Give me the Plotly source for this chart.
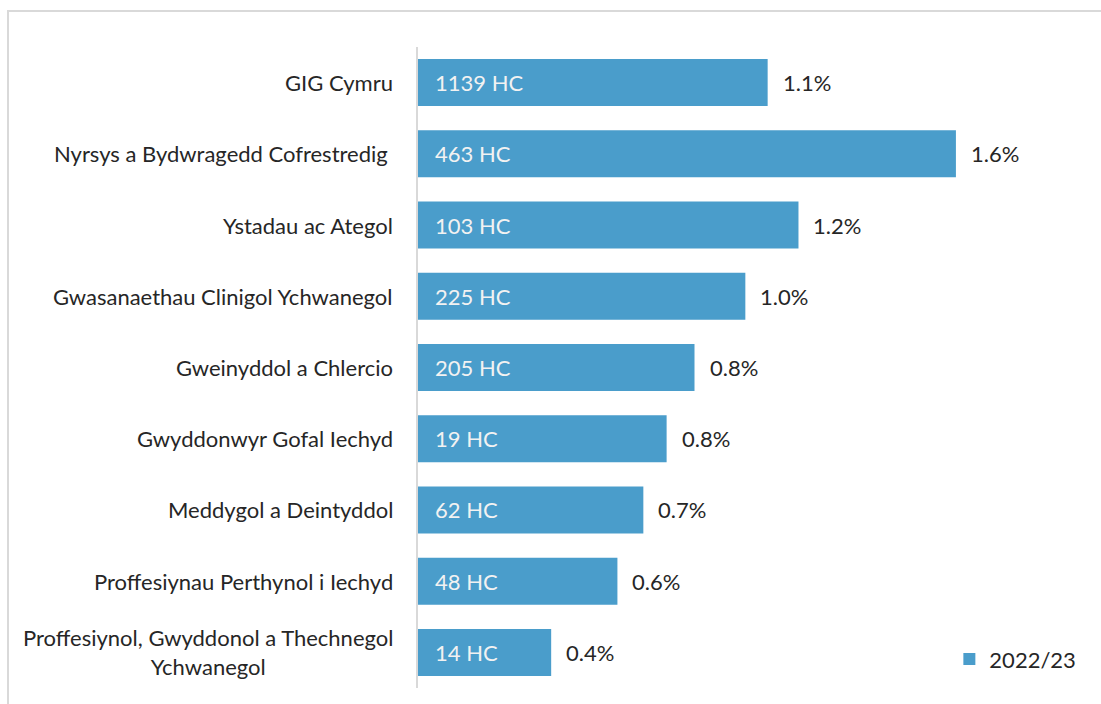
import plotly.graph_objects as go

categories = [
    "GIG Cymru",
    "Nyrsys a Bydwragedd Cofrestredig ",
    "Ystadau ac Ategol",
    "Gwasanaethau Clinigol Ychwanegol",
    "Gweinyddol a Chlercio",
    "Gwyddonwyr Gofal Iechyd",
    "Meddygol a Deintyddol",
    "Proffesiynau Perthynol i Iechyd",
    "Proffesiynol, Gwyddonol a Thechnegol<br>Ychwanegol",
]
pct_values = [1.066, 1.64, 1.16, 0.998, 0.843, 0.758, 0.687, 0.608, 0.406]
headcount = [1139, 463, 103, 225, 205, 19, 62, 48, 14]
series_name = "2022/23"

BAR_COLOR = "#4a9dcb"
TEXT_COLOR = "#262626"
FONT = "Lato"
FS = 22

fig = go.Figure()
fig.add_trace(go.Bar(
    y=categories,
    x=pct_values,
    orientation="h",
    name=series_name,
    marker=dict(color=BAR_COLOR, line=dict(width=0)),
    width=0.66,
    hoverinfo="x+y",
))

annotations = []
for cat, v, hc in zip(categories, pct_values, headcount):
    annotations.append(dict(
        x=0, xref="paper", y=cat, yref="y",
        text=cat, showarrow=False, xanchor="right", yanchor="middle",
        xshift=-23, align="center",
        font=dict(family=FONT, size=FS, color=TEXT_COLOR),
    ))
    annotations.append(dict(
        x=0, xref="x", y=cat, yref="y",
        text=f"{hc} HC", showarrow=False, xanchor="left", yanchor="middle",
        xshift=15,
        font=dict(family=FONT, size=FS, color="#f2f2f2"),
    ))
    annotations.append(dict(
        x=v, xref="x", y=cat, yref="y",
        text=f"{v:.1f}%", showarrow=False, xanchor="left", yanchor="middle",
        xshift=13,
        font=dict(family=FONT, size=FS, color=TEXT_COLOR),
    ))

fig.update_layout(
    width=1101, height=704,
    margin=dict(l=418, r=27, t=47, b=16, autoexpand=False),
    paper_bgcolor="white", plot_bgcolor="white",
    font=dict(family=FONT, size=FS, color=TEXT_COLOR),
    showlegend=True,
    legend=dict(x=0.81, y=0.045, xanchor="left", yanchor="middle",
                font=dict(family=FONT, size=FS, color=TEXT_COLOR),
                bgcolor="rgba(0,0,0,0)", itemwidth=30),
    xaxis=dict(range=[0, 2.0], showticklabels=False, showgrid=False,
               zeroline=False, showline=False, ticks=""),
    yaxis=dict(autorange="reversed", showticklabels=False, showgrid=False,
               zeroline=False, showline=True, linecolor="#d9d9d9", linewidth=2,
               ticks=""),
    annotations=annotations,
    shapes=[dict(type="rect", xref="paper", yref="paper",
                 x0=-0.625, x1=1.1, y0=-0.1, y1=1.0562,
                 line=dict(color="#d9d9d9", width=2), layer="below")],
)

fig.write_html(
    "out.html",
    config={"displayModeBar": False},
    post_script="document.body.style.margin='0';document.body.style.overflow='hidden';",
)
